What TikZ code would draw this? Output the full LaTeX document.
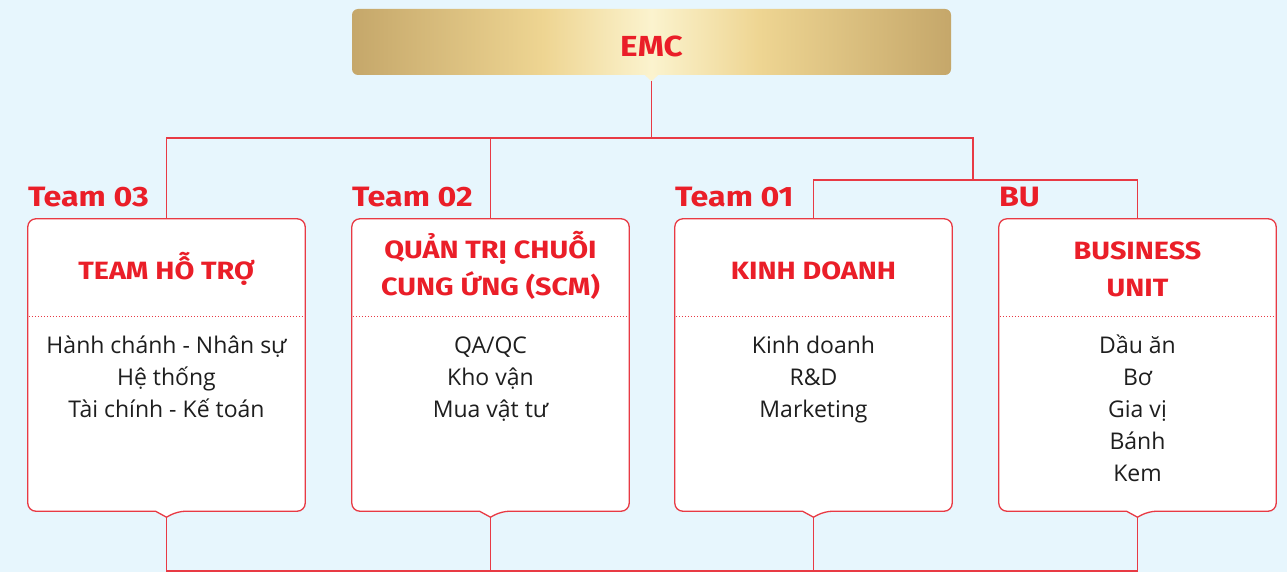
\documentclass[tikz,border=0pt]{standalone}
\usepackage{fontspec}
\setmainfont{Open Sans}
\newfontfamily\headfont[FakeStretch=1.15]{Fira Sans}
\usetikzlibrary{calc}

\definecolor{emcred}{RGB}{234,30,40}
\definecolor{linered}{RGB}{232,58,68}
\definecolor{bgblue}{RGB}{231,246,253}
\definecolor{bodyink}{RGB}{30,30,30}
\definecolor{golddark}{RGB}{197,167,106}
\definecolor{goldmid}{RGB}{238,213,146}
\definecolor{goldlight}{RGB}{251,243,206}

\pgfdeclarehorizontalshading{goldbar}{100bp}{color(0bp)=(golddark); color(25bp)=(golddark); color(41bp)=(goldmid); color(50bp)=(goldlight); color(59bp)=(goldmid); color(75bp)=(golddark); color(100bp)=(golddark)}

\tikzset{
  link/.style={draw=linered, line width=1.3pt},
  emcbox/.style={shading=goldbar, rounded corners=6pt, minimum width=599pt, minimum height=66pt, inner sep=0pt},
  emctag/.style={anchor=base, inner sep=0pt, text=emcred, font=\headfont\bfseries\fontsize{29}{29}\selectfont},
  unitcell/.style={minimum width=277pt, minimum height=292pt, inner sep=0pt},
  unitline/.style={draw=linered, line width=1.3pt, fill=white},
  sepline/.style={draw=linered, line width=1pt, dotted},
  teamtag/.style={anchor=base west, inner sep=0pt, text=emcred, font=\headfont\bfseries\fontsize{28}{28}\selectfont},
  unittitle/.style={anchor=base, inner sep=0pt, text=emcred, font=\headfont\bfseries\fontsize{25}{25}\selectfont},
  unititem/.style={anchor=base, inner sep=0pt, text=bodyink, font=\fontsize{23}{23}\selectfont},
}

\begin{document}
\begin{tikzpicture}[x=1pt, y=-1pt]
  \fill[bgblue] (0,0) rectangle (1287,572);
  \useasboundingbox (0,0) rectangle (1287,572);

  % EMC on top
  \node[emcbox] (emc) at (651.5,42) {};
  \node[emctag] (emc-text) at ($(emc.south)+(0,-19)$) {EMC};
  \fill[goldlight] ($(emc.south)+(-7,-0.5)$) -- ($(emc.south)+(0,6)$) -- ($(emc.south)+(7,-0.5)$) -- cycle;
  \coordinate (emc-tip) at ($(emc.south)+(0,6)$);

  % the four units
  \foreach \n/\cx in {t3/166.5, t2/490.5, t1/813.5, bu/1137.5} {
    \node[unitcell] (\n) at (\cx,365) {};
    \coordinate (\n-tip) at ($(\n.south)+(0,6)$);
  }

  % connectors
  \coordinate (bus) at (651.5,138);
  \coordinate (split) at (973,138);
  \coordinate (pair) at (973,180);
  \coordinate (base) at (651.5,571);
  \draw[link] (emc-tip) -- (bus);
  \draw[link] (t3.north) |- (split) -- (pair);
  \draw[link] (t2.north) -- (t2.north |- bus);
  \draw[link] (t1.north) |- (pair) -| (bu.north);
  \draw[link] (t3-tip) |- (base) -| (bu-tip);
  \draw[link] (t2-tip) -- (t2-tip |- base);
  \draw[link] (t1-tip) -- (t1-tip |- base);

  \foreach \n in {t3, t2, t1, bu} {
    \draw[unitline, rounded corners=8pt] ($(\n.south)+(-11,0)$) -- (\n.south west) -- (\n.north west) -- (\n.north east) -- (\n.south east) -- ($(\n.south)+(11,0)$) [sharp corners] -- (\n-tip) -- cycle;
    \draw[sepline] ($(\n.west)+(1,-49)$) -- ($(\n.east)+(-1,-49)$);
  }

  % labels above the units
  \node[teamtag] (t3-tag) at ($(t3.north west)+(0,-12)$) {Team 03};
  \node[teamtag] (t2-tag) at ($(t2.north west)+(0,-12)$) {Team 02};
  \node[teamtag] (t1-tag) at ($(t1.north west)+(0,-12)$) {Team 01};
  \node[teamtag] (bu-tag) at ($(bu.north west)+(0,-12)$) {BU};

  % unit titles
  \node[unittitle] (t3-title) at ($(t3.north)+(0,61)$) {TEAM HỖ TRỢ};
  \node[unittitle] (t2-title-a) at ($(t2.north)+(0,40)$) {QUẢN TRỊ CHUỖI};
  \node[unittitle] (t2-title-b) at ($(t2.north)+(0,77)$) {CUNG ỨNG (SCM)};
  \node[unittitle] (t1-title) at ($(t1.north)+(0,61)$) {KINH DOANH};
  \node[unittitle] (bu-title-a) at ($(bu.north)+(0,41)$) {BUSINESS};
  \node[unittitle] (bu-title-b) at ($(bu.north)+(0,78)$) {UNIT};

  % unit members
  \foreach \t [count=\i from 0] in {Hành chánh - Nhân sự, Hệ thống, Tài chính - Kế toán}
    \node[unititem] (t3-item\i) at ($(t3.north)+(0,135+32*\i)$) {\t};
  \foreach \t [count=\i from 0] in {QA/QC, Kho vận, Mua vật tư}
    \node[unititem] (t2-item\i) at ($(t2.north)+(0,135+32*\i)$) {\t};
  \foreach \t [count=\i from 0] in {Kinh doanh, R\&D, Marketing}
    \node[unititem] (t1-item\i) at ($(t1.north)+(0,135+32*\i)$) {\t};
  \foreach \t [count=\i from 0] in {Dầu ăn, Bơ, Gia vị, Bánh, Kem}
    \node[unititem] (bu-item\i) at ($(bu.north)+(0,135+32*\i)$) {\t};
\end{tikzpicture}
\end{document}
